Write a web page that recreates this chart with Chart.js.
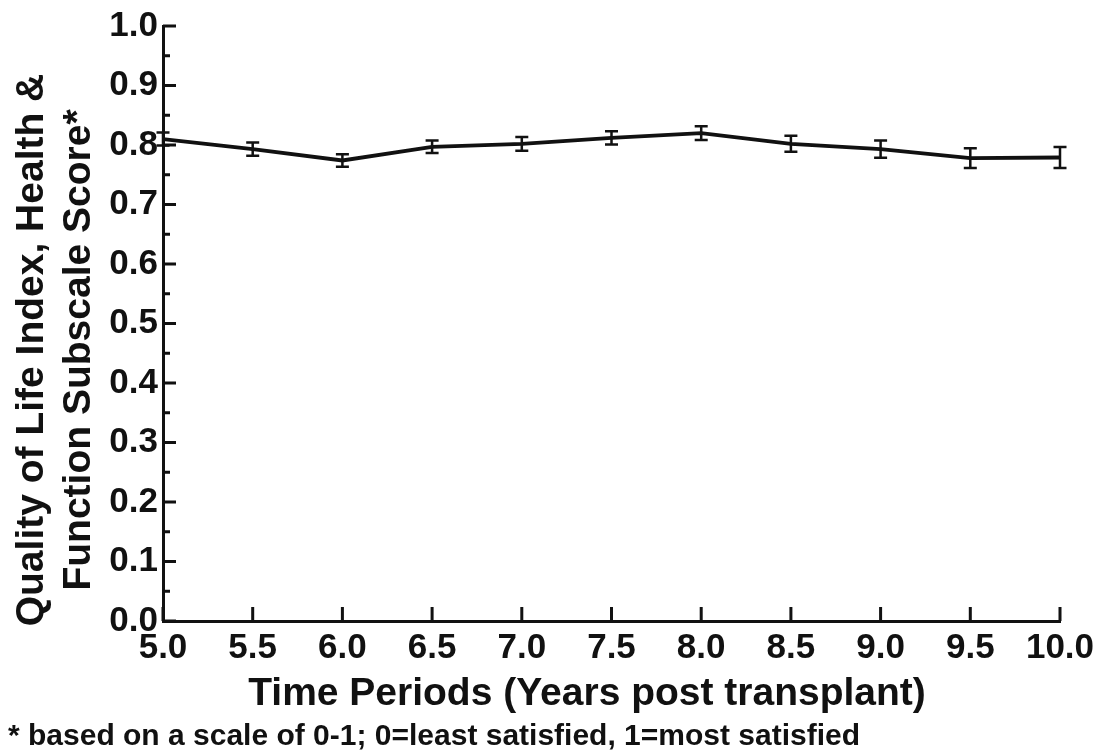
<!DOCTYPE html>
<html>
<head>
<meta charset="utf-8">
<script src="https://cdn.jsdelivr.net/npm/chart.js@4.4.0/dist/chart.umd.min.js"></script>
<style>
  html, body { margin: 0; padding: 0; background: #fff; }
  #wrap { width: 1106px; height: 755px; position: relative; }
</style>
</head>
<body>
<div id="wrap"><canvas id="chart" width="1106" height="755"></canvas></div>
<script>
// Years post transplant
const years = [5.0, 5.5, 6.0, 6.5, 7.0, 7.5, 8.0, 8.5, 9.0, 9.5, 10.0];
// Mean subscale score and standard error
const scores = [0.810, 0.793, 0.774, 0.797, 0.802, 0.812, 0.820, 0.802, 0.793, 0.778, 0.779];
const errors = [0.011, 0.011, 0.0105, 0.0105, 0.0115, 0.011, 0.0117, 0.0135, 0.0145, 0.0167, 0.0175];

const xTickValues = [5.0, 5.5, 6.0, 6.5, 7.0, 7.5, 8.0, 8.5, 9.0, 9.5, 10.0];
const yTickValues = [0.0, 0.1, 0.2, 0.3, 0.4, 0.5, 0.6, 0.7, 0.8, 0.9, 1.0];
const yMinorValues = [0.05, 0.15, 0.25, 0.35, 0.45, 0.55, 0.65, 0.75, 0.85, 0.95];

const yTitle = ['Quality of Life Index, Health &', 'Function Subscale Score*'];
const xTitle = 'Time Periods (Years post transplant)';
const footnote = '* based on a scale of 0-1; 0=least satisfied, 1=most satisfied';

const FONT = '"Liberation Sans", Arial, Helvetica, sans-serif';
const INK = '#111';

// error bars, inward tick marks and the text around the plot
const extras = {
  id: 'extras',
  afterDatasetsDraw(chart) {
    const { ctx, scales: { x, y } } = chart;
    ctx.save();
    ctx.strokeStyle = INK;
    ctx.lineWidth = 2.5;
    ctx.lineCap = 'butt';
    years.forEach((yr, i) => {
      const px = x.getPixelForValue(yr);
      const top = y.getPixelForValue(scores[i] + errors[i]);
      const bot = y.getPixelForValue(scores[i] - errors[i]);
      ctx.beginPath();
      ctx.moveTo(px, top); ctx.lineTo(px, bot);
      ctx.moveTo(px - 6.5, top); ctx.lineTo(px + 6.5, top);
      ctx.moveTo(px - 6.5, bot); ctx.lineTo(px + 6.5, bot);
      ctx.stroke();
    });
    ctx.restore();
  },
  afterDraw(chart) {
    const { ctx, chartArea: a, scales: { x, y } } = chart;
    ctx.save();
    ctx.strokeStyle = INK;
    ctx.lineWidth = 3;
    ctx.beginPath();
    yTickValues.forEach(v => {
      const py = y.getPixelForValue(v);
      ctx.moveTo(a.left, py); ctx.lineTo(a.left + 13, py);
    });
    yMinorValues.forEach(v => {
      const py = y.getPixelForValue(v);
      ctx.moveTo(a.left, py); ctx.lineTo(a.left + 7, py);
    });
    xTickValues.forEach(v => {
      const px = x.getPixelForValue(v);
      ctx.moveTo(px, a.bottom); ctx.lineTo(px, a.bottom - 14);
    });
    ctx.stroke();

    ctx.fillStyle = INK;
    ctx.font = 'bold 39px ' + FONT;
    ctx.textAlign = 'center';
    ctx.textBaseline = 'alphabetic';
    ctx.fillText(xTitle, 587, 705);

    ctx.save();
    ctx.translate(0, 350);
    ctx.rotate(-Math.PI / 2);
    ctx.fillText(yTitle[0], 0, 43);
    ctx.fillText(yTitle[1], 0, 90);
    ctx.restore();

    ctx.font = 'bold 30px ' + FONT;
    ctx.textAlign = 'left';
    ctx.fillText(footnote, 8, 745);
    ctx.restore();
  }
};

new Chart(document.getElementById('chart'), {
  type: 'line',
  data: {
    datasets: [{
      data: years.map((yr, i) => ({ x: yr, y: scores[i] })),
      borderColor: INK,
      borderWidth: 3.8,
      pointRadius: 0,
      tension: 0,
      fill: false
    }]
  },
  options: {
    responsive: false,
    animation: false,
    layout: { padding: { top: 22, right: 46, left: 0, bottom: 0 } },
    plugins: { legend: { display: false }, tooltip: { enabled: false } },
    scales: {
      x: {
        type: 'linear',
        min: 5, max: 10,
        afterBuildTicks: s => { s.ticks = xTickValues.map(v => ({ value: v })); },
        afterFit: s => { s.height = 134; },
        grid: { drawOnChartArea: false, drawTicks: false },
        border: { color: INK, width: 3 },
        ticks: {
          color: INK,
          padding: 6,
          maxRotation: 0,
          autoSkip: false,
          font: { family: FONT, size: 35, weight: 'bold' },
          callback: v => v.toFixed(1)
        }
      },
      y: {
        min: 0, max: 1,
        afterBuildTicks: s => { s.ticks = yTickValues.map(v => ({ value: v })); },
        afterFit: s => { s.width = 163; },
        grid: { drawOnChartArea: false, drawTicks: false },
        border: { color: INK, width: 3 },
        ticks: {
          color: INK,
          padding: 5,
          autoSkip: false,
          font: { family: FONT, size: 35, weight: 'bold' },
          callback: v => v.toFixed(1)
        }
      }
    }
  },
  plugins: [extras]
});
</script>
</body>
</html>
